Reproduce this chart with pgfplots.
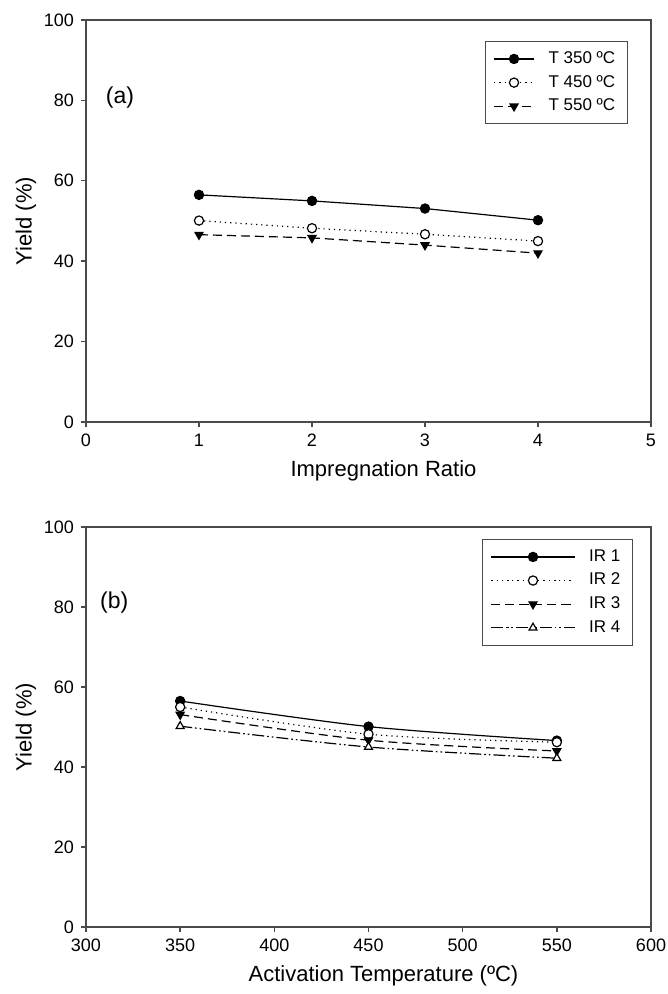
\documentclass[border=0pt]{standalone}
\usepackage{pgfplots}
\pgfplotsset{compat=1.18}
\usepackage{fontspec}
\setmainfont{Liberation Sans}
\definecolor{axgray}{HTML}{4A4A4A}
\pgfplotsset{
  myaxis/.style={
    scale only axis,
    width=282.5pt,
    tick align=outside,
    tick pos=left,
    major tick length=2.5pt,
    axis line style={axgray, line width=0.9pt},
    every tick/.style={axgray, line width=0.7pt},
    ymin=0, ymax=100,
    ytick={0,20,...,100},
    /pgf/number format/assume math mode=true,
    tick label style={font=\fontsize{9}{10}\selectfont},
    label style={font=\fontsize{11}{13}\selectfont},
    ylabel={Yield (\%)},
    ylabel style={yshift=-3pt},
    xlabel style={xshift=7.5pt},
    legend cell align=left,
    legend style={draw=axgray, line width=0.6pt, font=\fontsize{8.5}{9.5}\selectfont,
      inner xsep=4pt, inner ysep=3pt, row sep=0.4pt,
      /tikz/every odd column/.append style={column sep=5pt}},
    every axis plot/.append style={black, line width=0.6pt, mark size=2.3pt},
  },
  inv/.style={mark=triangle*, mark options={rotate=180, solid, fill=black}},
  dotc/.style={mark=*, mark options={solid, fill=white}},
  fullc/.style={mark=*, mark options={solid, fill=black}},
  uptri/.style={mark=triangle*, mark options={solid, fill=white}},
  dashdd/.style={dash pattern=on 6pt off 1.5pt on 0.8pt off 1.5pt on 0.8pt off 1.5pt},
  mydashed/.style={dash pattern=on 4.5pt off 2.5pt},
}
\begin{document}
\begin{tikzpicture}
\begin{axis}[myaxis,
  name=pa,
  at={(0,0)}, anchor=south west,
  height=201pt,
  xmin=0, xmax=5, xtick={0,1,...,5},
  xlabel={Impregnation Ratio},
  legend style={at={(0.959,0.948)}, anchor=north east},
  legend image code/.code={\draw[mark repeat=2,mark phase=2] plot coordinates {(0cm,0cm) (0.35cm,0cm) (0.7cm,0cm)};},
]
\addplot[fullc] coordinates {(1,56.5) (2,55.0) (3,53.1) (4,50.2)};
\addlegendentry{T 350 ºC}
\addplot[dotted, dotc] coordinates {(1,50.1) (2,48.2) (3,46.7) (4,45.0)};
\addlegendentry{T 450 ºC}
\addplot[mydashed, inv] coordinates {(1,46.6) (2,45.8) (3,44.0) (4,42.0)};
\addlegendentry{T 550 ºC}
\node[font=\fontsize{11.5}{13}\selectfont] at (axis cs:0.3,80.6) {(a)};
\end{axis}
\begin{axis}[myaxis,
  name=pb,
  at={(0,-252.5pt)}, anchor=south west,
  height=200pt,
  xmin=300, xmax=600, xtick={300,350,...,600},
  xlabel={Activation Temperature (ºC)},
  legend style={at={(0.968,0.97)}, anchor=north east},
  legend image code/.code={\draw[mark repeat=2,mark phase=2] plot coordinates {(0cm,0cm) (0.73cm,0cm) (1.46cm,0cm)};},
]
\addplot[smooth, fullc] coordinates {(350,56.5) (450,50.1) (550,46.6)};
\addlegendentry{IR 1}
\addplot[smooth, dotted, dotc] coordinates {(350,55.0) (450,48.2) (550,46.2)};
\addlegendentry{IR 2}
\addplot[smooth, mydashed, inv] coordinates {(350,53.1) (450,46.7) (550,44.0)};
\addlegendentry{IR 3}
\addplot[smooth, dashdd, uptri] coordinates {(350,50.2) (450,45.0) (550,42.2)};
\addlegendentry{IR 4}
\node[font=\fontsize{11.5}{13}\selectfont] at (axis cs:315,81) {(b)};
\end{axis}
\pgfresetboundingbox
\path[use as bounding box] (-43pt,211pt) rectangle (291pt,-286pt);
\end{tikzpicture}
\end{document}
